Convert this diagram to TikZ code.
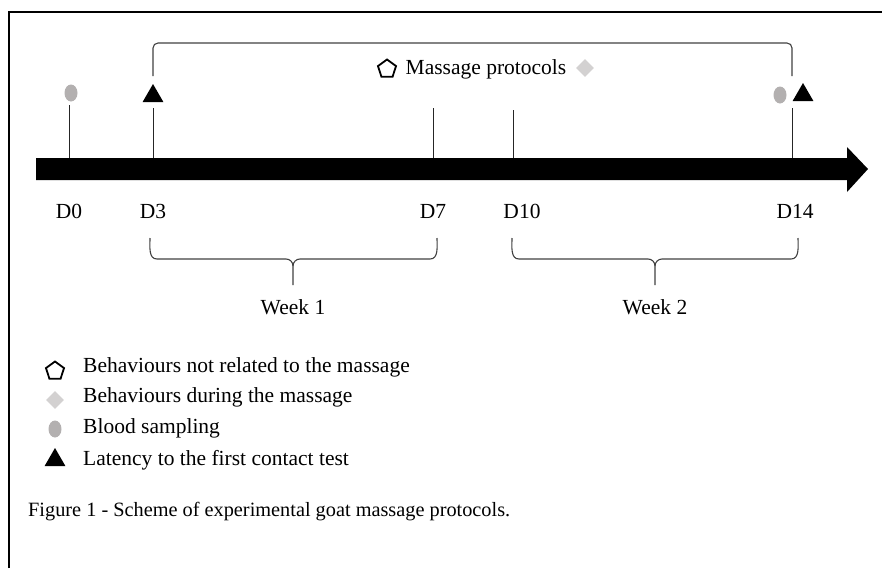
\documentclass[tikz,border=0pt]{standalone}
\usepackage{fontspec}
\setmainfont{Liberation Serif}
\usetikzlibrary{shapes.geometric}
\definecolor{bloodgrey}{HTML}{B3B0B0}
\definecolor{diagrey}{HTML}{D3D1D1}
\tikzset{
  lbl/.style={font=\fontsize{21.5}{24}\selectfont, inner sep=0pt},
  caplbl/.style={font=\fontsize{20.3}{24}\selectfont, inner sep=0pt},
  tick/.style={line width=1pt, draw=black!85},
  tri/.style={regular polygon, regular polygon sides=3, fill=black, minimum size=24pt, inner sep=0pt},
  blood/.style={ellipse, fill=bloodgrey, minimum width=13pt, minimum height=17pt, inner sep=0pt},
  penta/.style={regular polygon, regular polygon sides=5, draw=black, line width=1.8pt, minimum size=19pt, inner sep=0pt},
  dia/.style={diamond, fill=diagrey, minimum width=18pt, minimum height=18pt, inner sep=0pt},
  bracket/.style={line width=1.1pt, draw=black!75},
}
\begin{document}
\begin{tikzpicture}[x=1pt,y=-1pt]
\useasboundingbox (0,0) rectangle (882,568);
% frame
\draw[line width=1.2pt] (9,568) -- (9,12) -- (882,12);
% main arrow
\fill[black] (36,158) -- (847,158) -- (847,147) -- (868,169) -- (847,192) -- (847,180) -- (36,180) -- cycle;
% tick coordinates
\coordinate (b0) at (69,158);
\coordinate (b3) at (153,158);
\coordinate (b7) at (433,158);
\coordinate (b10) at (513,158);
\coordinate (b14) at (792,158);
\coordinate (t0) at (69,105);
\coordinate (t3) at (153,108);
\coordinate (t7) at (433,108);
\coordinate (t10) at (513,110);
\coordinate (t14) at (792,108);
% markers
\node[blood] (m0) at (71,93) {};
\node[tri] (m3) at (153,96) {};
\node[blood] (m14a) at (780,95) {};
\node[tri] (m14b) at (803,95) {};
% ticks
\draw[tick] (t0) -- (b0);
\draw[tick] (t3) -- (b3);
\draw[tick] (t7) -- (b7);
\draw[tick] (t10) -- (b10);
\draw[tick] (t14) -- (b14);
% top bracket
\coordinate (k1) at (153,76);
\coordinate (k2) at (792,76);
\draw[bracket, rounded corners=5pt] (k1) -- (153,43) -- (792,43) -- (k2);
% title
\node[lbl] (mp) at (486,69) {Massage protocols};
\node[penta] (mpp) at (387,69) {};
\node[dia] (mpd) at (585,68) {};
% day labels
\node[lbl] (d0) at (69,211) {D0};
\node[lbl] (d3) at (153,211) {D3};
\node[lbl] (d7) at (433,211) {D7};
\node[lbl] (d10) at (522,211) {D10};
\node[lbl] (d14) at (795,211) {D14};
% braces
\draw[bracket] (150,238) to[out=-90,in=180] (157,259) -- (286,259) to[out=0,in=90] (293,266) -- (293,285);
\draw[bracket] (437,238) to[out=-90,in=0] (430,259) -- (300,259) to[out=180,in=90] (293,266);
\draw[bracket] (512,238) to[out=-90,in=180] (519,259) -- (648,259) to[out=0,in=90] (655,266) -- (655,285);
\draw[bracket] (798,238) to[out=-90,in=0] (791,259) -- (662,259) to[out=180,in=90] (655,266);
\node[lbl] (w1) at (293,307) {Week 1};
\node[lbl] (w2) at (655,307) {Week 2};
% legend
\node[penta] (lg1) at (55,371) {};
\node[dia] (lg2) at (55,400) {};
\node[blood] (lg3) at (55,429) {};
\node[tri] (lg4) at (55,460) {};
\node[lbl, anchor=west] (lt1) at (83,367) {Behaviours not related to the massage};
\node[lbl, anchor=west] (lt2) at (83,397) {Behaviours during the massage};
\node[lbl, anchor=west] (lt3) at (83,428) {Blood sampling};
\node[lbl, anchor=west] (lt4) at (83,460) {Latency to the first contact test};
% caption
\node[caplbl, anchor=west] (cap) at (28,512) {Figure 1 - Scheme of experimental goat massage protocols.};
\end{tikzpicture}
\end{document}
